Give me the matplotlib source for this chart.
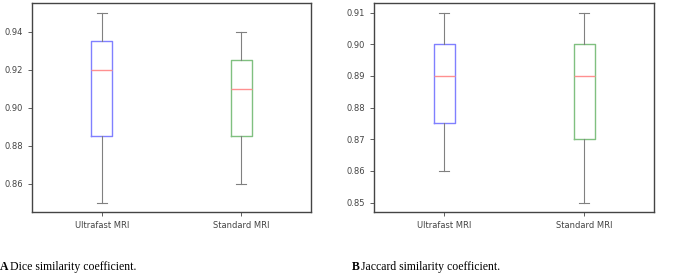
import matplotlib
matplotlib.use("Agg")
import matplotlib.pyplot as plt

categories = ["Ultrafast MRI", "Standard MRI"]

# Dice: [whislo, q1, med, q3, whishi]
dice_ultrafast = [0.85, 0.885, 0.92, 0.935, 0.95]
dice_standard = [0.86, 0.885, 0.91, 0.925, 0.94]
# Jaccard
jac_ultrafast = [0.86, 0.875, 0.89, 0.90, 0.91]
jac_standard = [0.85, 0.87, 0.89, 0.90, 0.91]

dice_ticks = [0.86, 0.88, 0.90, 0.92, 0.94]
jac_ticks = [0.85, 0.86, 0.87, 0.88, 0.89, 0.90, 0.91]

box_colors = ["#8080ff", "#80c080"]

def stats(vals, label):
    lo, q1, med, q3, hi = vals
    return dict(whislo=lo, q1=q1, med=med, q3=q3, whishi=hi, label=label, fliers=[])

fig = plt.figure(figsize=(6.77, 2.74), dpi=100)
W, H = 677, 274
axA = fig.add_axes([32 / W, 1 - 212 / H, 279 / W, 209 / H])
axB = fig.add_axes([374 / W, 1 - 212 / H, 280 / W, 209 / H])

def draw(ax, series, ticks, fmt):
    st = [stats(v, c) for v, c in zip(series, categories)]
    bp = ax.bxp(st, positions=[1, 2], widths=0.15, showfliers=False,
                whiskerprops=dict(color="#808080", lw=0.8),
                capprops=dict(color="#808080", lw=0.8),
                medianprops=dict(color="#ff9090", lw=1.0),
                boxprops=dict(lw=1.0))
    for b, c in zip(bp["boxes"], box_colors):
        b.set_color(c)
    ax.set_xlim(0.5, 2.5)
    ax.set_yticks(ticks)
    ax.set_yticklabels([fmt.format(t) for t in ticks])
    ax.tick_params(labelsize=6, colors="#444444", length=3, width=0.6)
    for s in ax.spines.values():
        s.set_color("#444444")
        s.set_linewidth(1.0)

draw(axA, [dice_ultrafast, dice_standard], dice_ticks, "{:.2f}")
draw(axB, [jac_ultrafast, jac_standard], jac_ticks, "{:.2f}")

cap_y = 1 - 270 / H
fig.text(0 / W, cap_y, "A", fontsize=8.5, family="Liberation Serif", weight="bold", va="baseline")
fig.text(10 / W, cap_y, "Dice similarity coefficient.", fontsize=8.5, family="Liberation Serif", va="baseline")
fig.text(352 / W, cap_y, "B", fontsize=8.5, family="Liberation Serif", weight="bold", va="baseline")
fig.text(361 / W, cap_y, "Jaccard similarity coefficient.", fontsize=8.5, family="Liberation Serif", va="baseline")

fig.savefig("out.png", dpi=100)
